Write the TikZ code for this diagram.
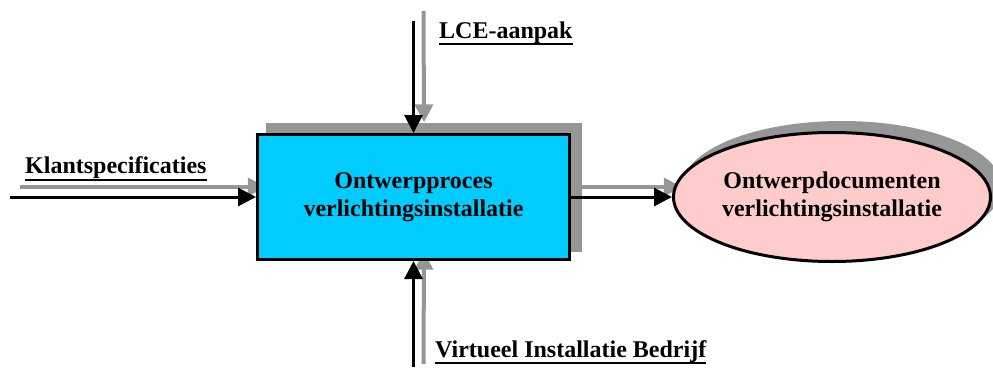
\documentclass[tikz,border=0pt]{standalone}
\usepackage{fontspec}
\setmainfont{Liberation Serif}
\usetikzlibrary{arrows.meta,shapes.geometric}
\definecolor{shadowgray}{RGB}{150,150,150}
\definecolor{boxcyan}{RGB}{0,204,255}
\definecolor{ellpink}{RGB}{255,204,204}
\begin{document}
\begin{tikzpicture}[x=1pt,y=-1pt,
  txt/.style={font=\bfseries\fontsize{24}{28}\selectfont},
  lbl/.style={txt, inner sep=0pt, anchor=base west},
  blackarrow/.style={draw=black, line width=3pt, -{Triangle[length=18pt,width=18pt]}},
  greyarrow/.style={draw=shadowgray, line width=4pt, -{Triangle[length=18pt,width=18pt]}},
  ulin/.style={line width=2pt},
  shadowshape/.style={fill=shadowgray, draw=none}]
\useasboundingbox (0,0) rectangle (993,367);

% shadows
\node[shadowshape, minimum width=316pt, minimum height=129pt] (procshadow) at (424,187) {};
\node[shadowshape, ellipse, minimum width=320pt, minimum height=132pt] (docshadow) at (842,187) {};

% free ends
\coordinate (kstart) at (10,197);
\coordinate (kshad) at (20,187);
\coordinate (lcestart) at (413.5,21);
\coordinate (lceshad) at (423.5,11);
\coordinate (vibstart) at (413.5,367);
\coordinate (vibshad) at (423.5,364);

% grey shadow arrows
\draw[greyarrow] (kshad) -- (procshadow.west |- kshad);
\draw[greyarrow] (lceshad) -- (procshadow.north);
\draw[greyarrow] (vibshad) -- (procshadow.south);
\draw[greyarrow] (procshadow.east) -- (docshadow.west);

% main shapes
\node[draw, line width=3pt, fill=boxcyan, minimum width=312pt, minimum height=125pt, txt, align=center] (proc) at (413.5,197) {Ontwerpproces\\verlichtingsinstallatie};
\node[ellipse, draw, line width=3pt, fill=ellpink, minimum width=317pt, minimum height=129pt, inner sep=0pt, txt, align=center] (doc) at (832,197) {Ontwerpdocumenten\\verlichtingsinstallatie};

% black arrows
\draw[blackarrow] (kstart) -- (proc.west |- kstart);
\draw[blackarrow] (lcestart) -- (proc.north);
\draw[blackarrow] (vibstart) -- (proc.south);
\draw[blackarrow] (proc.east) -- (doc.west);

% labels
\node[lbl] (klant) at (25,173) {Klantspecificaties};
\draw[ulin] ([yshift=-7pt]klant.base west) -- ([yshift=-7pt]klant.base east);
\node[lbl] (lce) at (439,38) {LCE-aanpak};
\draw[ulin] ([yshift=-6pt]lce.base west) -- ([yshift=-6pt]lce.base east);
\node[lbl] (vib) at (435,357) {Virtueel Installatie Bedrijf};
\draw[ulin] ([yshift=-6pt]vib.base west) -- ([yshift=-6pt]vib.base east);
\end{tikzpicture}
\end{document}
